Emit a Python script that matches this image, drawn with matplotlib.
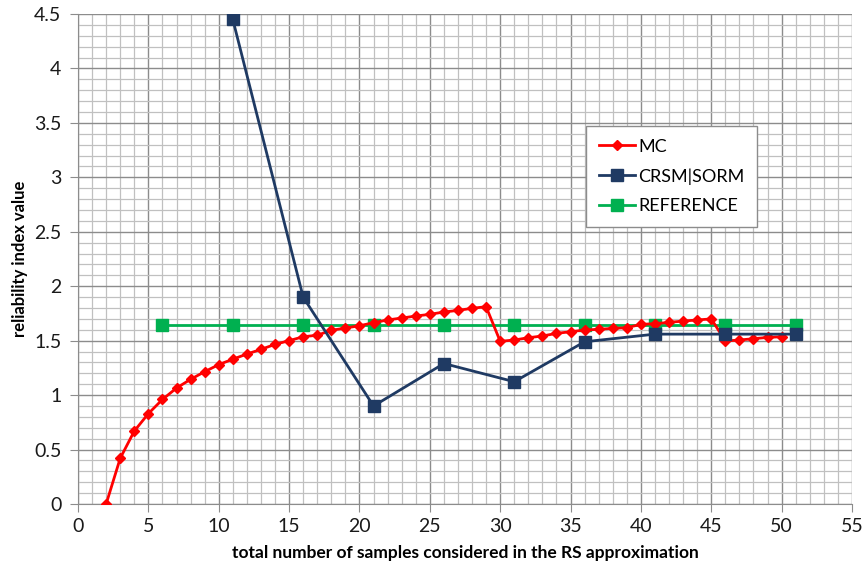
import matplotlib
matplotlib.use("Agg")
import matplotlib.pyplot as plt
from matplotlib.ticker import MultipleLocator

plt.rcParams['font.family'] = ['Lato', 'DejaVu Sans']

mc_x = list(range(2, 51))
mc_y = [0.0, 0.42, 0.67, 0.83, 0.96, 1.065, 1.145, 1.215, 1.28, 1.33,
        1.377, 1.42, 1.466, 1.50, 1.536, 1.55, 1.595, 1.616, 1.637, 1.665,
        1.69, 1.708, 1.726, 1.742, 1.763, 1.778, 1.797, 1.812, 1.494, 1.506,
        1.527, 1.543, 1.567, 1.582, 1.598, 1.604, 1.613, 1.619, 1.65, 1.656,
        1.668, 1.68, 1.69, 1.70, 1.497, 1.506, 1.518, 1.53, 1.536]
crsm_x = [11, 16, 21, 26, 31, 36, 41, 46, 51]
crsm_y = [4.45, 1.90, 0.90, 1.29, 1.123, 1.49, 1.56, 1.56, 1.56]
ref_x = [6, 11, 16, 21, 26, 31, 36, 41, 46, 51]
ref_y = [1.644] * 10
x_ticks = list(range(0, 56, 5))
y_ticks = [0, 0.5, 1, 1.5, 2, 2.5, 3, 3.5, 4, 4.5]
y_tick_labels = ['0', '0.5', '1', '1.5', '2', '2.5', '3', '3.5', '4', '4.5']

fig = plt.figure(figsize=(8.66, 5.72), dpi=100)
ax = fig.add_axes([78/866, 1 - 504/572, (852-78)/866, (504-14)/572])

ax.set_xlim(0, 55)
ax.set_ylim(0, 4.5)
ax.xaxis.set_minor_locator(MultipleLocator(1))
ax.yaxis.set_minor_locator(MultipleLocator(0.1))
ax.grid(which='major', color='#8c8c8c', linewidth=1.0)
ax.grid(which='minor', color='#c0c0c0', linewidth=0.9)
ax.set_axisbelow(True)
for s in ['top', 'right']:
    ax.spines[s].set_visible(False)
for s in ['left', 'bottom']:
    ax.spines[s].set_color('#8c8c8c')
ax.tick_params(which='major', length=6, color='#8c8c8c', labelsize=14, labelcolor='#1a1a1a', pad=4)
ax.tick_params(axis='y', which='major', pad=6)
ax.tick_params(which='minor', length=0)
ax.set_xticks(x_ticks)
ax.set_xticklabels([str(v) for v in x_ticks])
ax.set_yticks(y_ticks)
ax.set_yticklabels(y_tick_labels)

ax.plot(mc_x, mc_y, color='#ff0000', lw=2, marker='D', ms=5.5, label='MC', zorder=3)
ax.plot(crsm_x, crsm_y, color='#1f3a63', lw=2, marker='s', ms=8, label='CRSM|SORM', zorder=4)
ax.plot(ref_x, ref_y, color='#00b050', lw=2, marker='s', ms=8.5, label='REFERENCE', zorder=2)

ax.set_xlabel('total number of samples considered in the RS approximation', fontsize=12.5, fontweight='bold', labelpad=7)
ax.set_ylabel('reliability index value', fontsize=12, fontweight='bold', labelpad=4)

leg = ax.legend(loc='upper left', bbox_to_anchor=((577-78)/774, (504-117)/490), fontsize=13,
                frameon=True, fancybox=False, edgecolor='#8c8c8c', framealpha=1,
                handlelength=2.0, labelspacing=0.75, borderpad=0.7, handletextpad=0.2)
leg.get_frame().set_linewidth(1.0)

fig.savefig('out.png', dpi=100)
